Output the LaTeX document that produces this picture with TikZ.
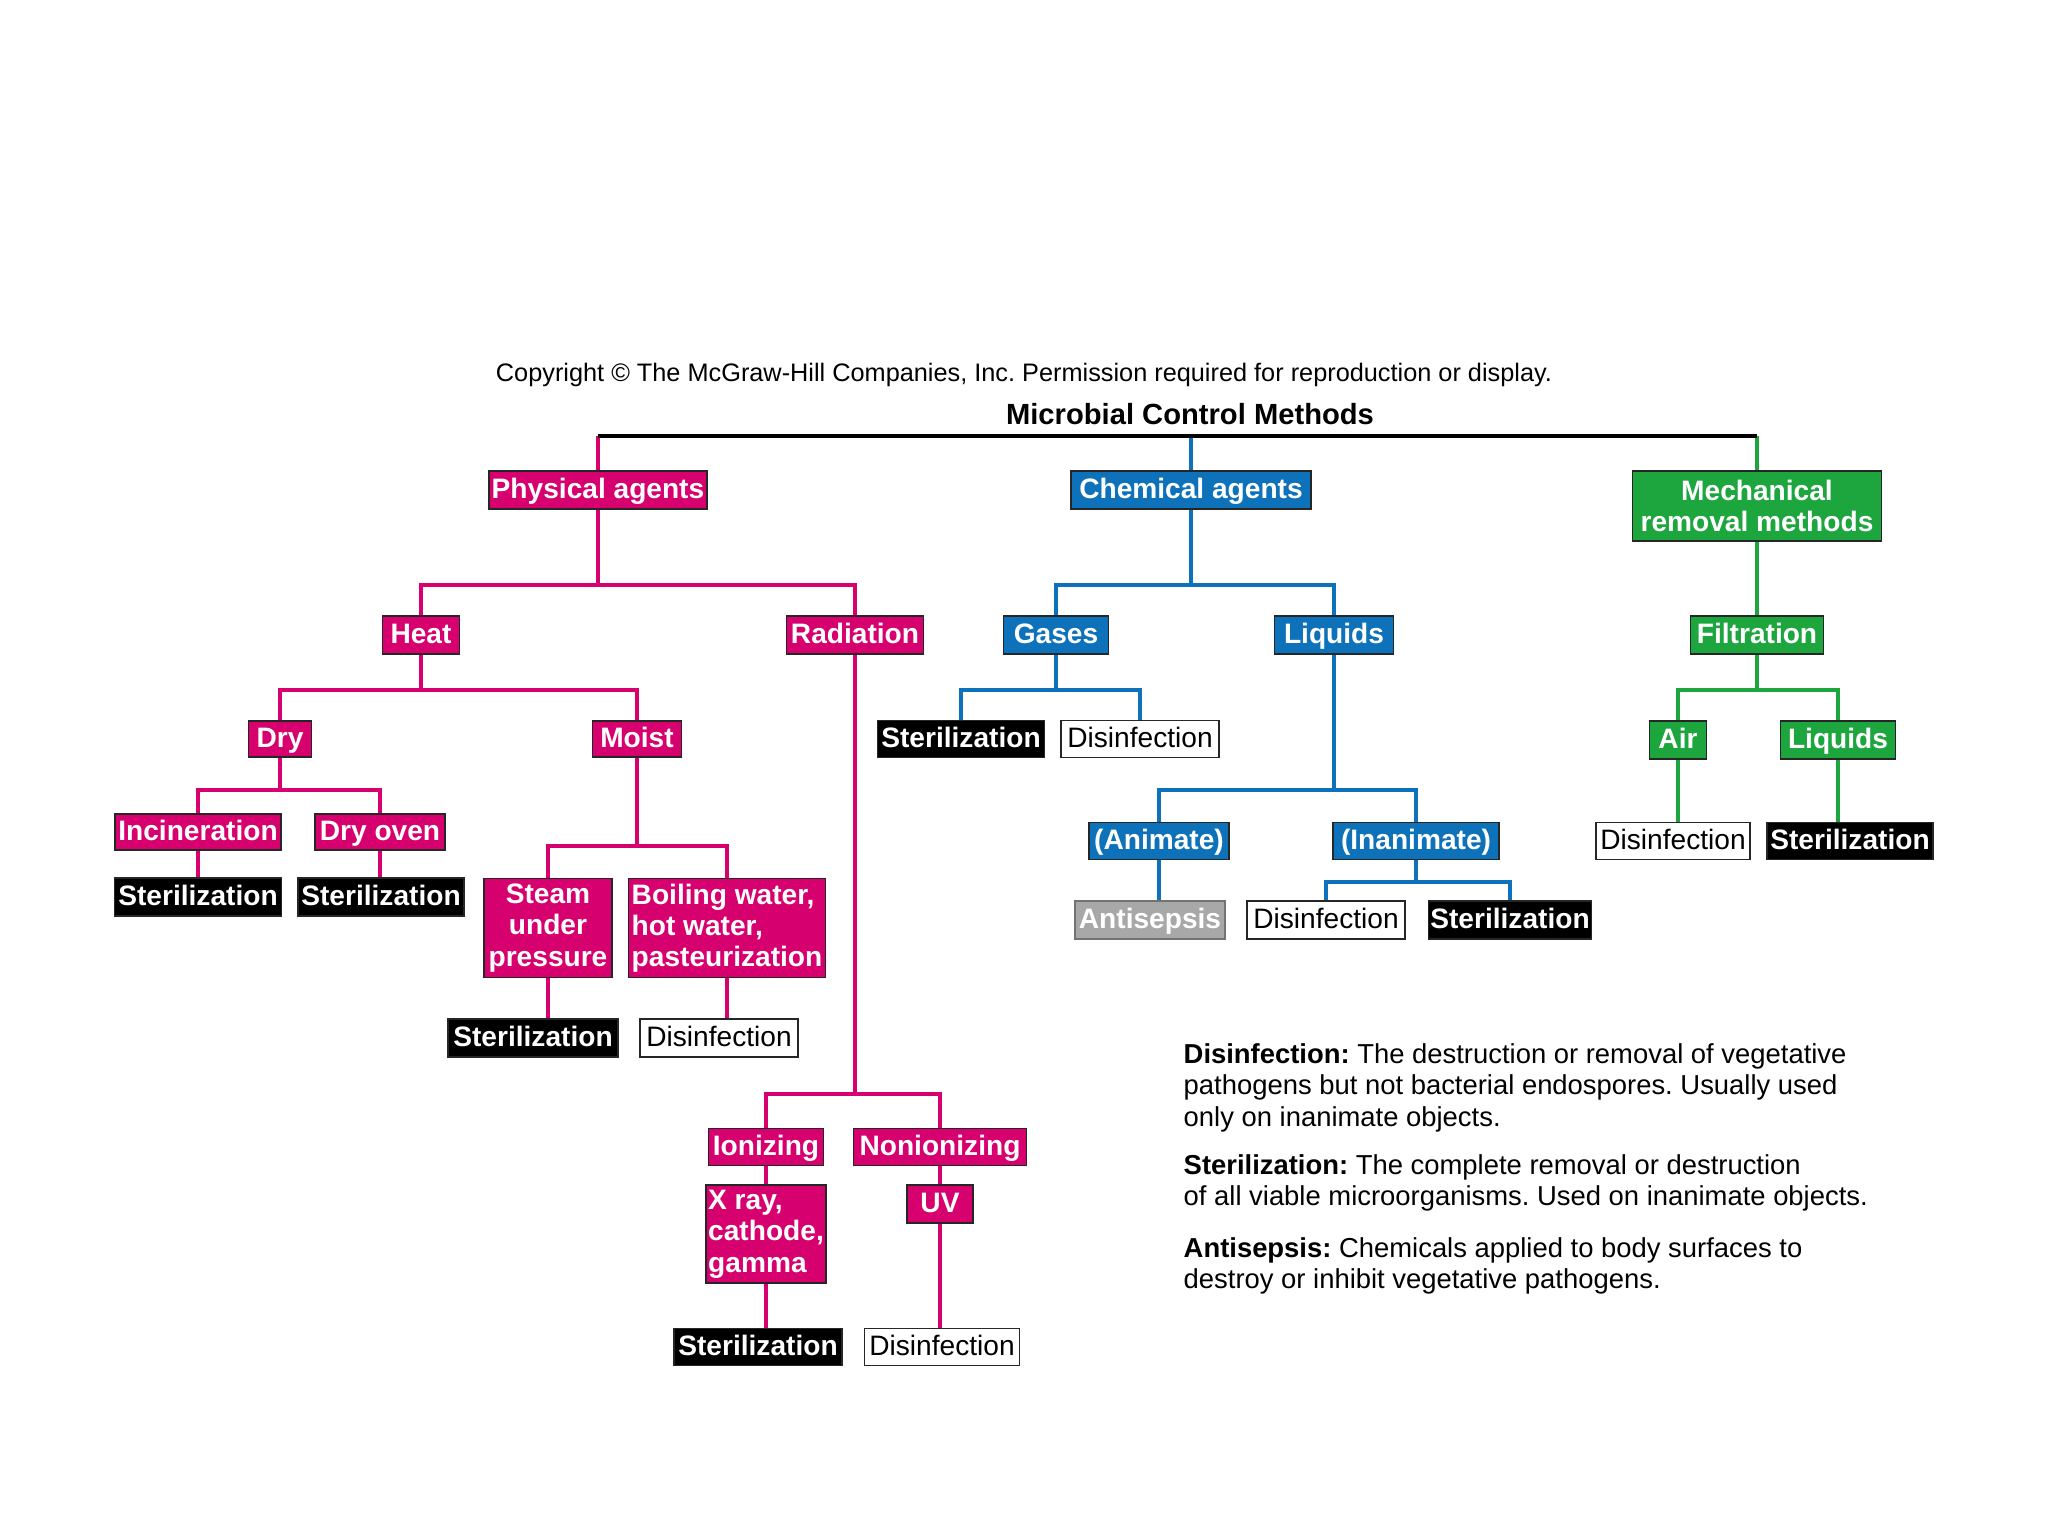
\documentclass[tikz,border=0pt]{standalone}
\usepackage{fontspec}
\setmainfont{Liberation Sans}
\frenchspacing
\definecolor{pinkc}{HTML}{D6006F}
\definecolor{bluec}{HTML}{0D72B9}
\definecolor{greenc}{HTML}{1DA53E}
\definecolor{grayc}{HTML}{A8A8A8}
\tikzset{
  base/.style={rectangle, draw=black!85, line width=0.5pt, inner sep=0pt, minimum height=3.8mm, align=center, text height=6.6pt, text depth=1.7pt, font=\fontsize{8}{8.9}\selectfont\bfseries},
  multi/.style={text height=, text depth=},
  pk/.style={base, fill=pinkc, text=white},
  bl/.style={base, fill=bluec, text=white},
  gr/.style={base, fill=greenc, text=white},
  st/.style={base, fill=black, text=white},
  di/.style={base, fill=white, text=black, font=\fontsize{8}{8.9}\selectfont},
  an/.style={base, fill=grayc, text=white, draw=black!55},
  lpk/.style={draw=pinkc, line width=0.9pt},
  lbl/.style={draw=bluec, line width=0.9pt},
  lgr/.style={draw=greenc, line width=0.9pt},
  ltop/.style={draw=black, line width=1.1pt},
  defs/.style={inner sep=0pt, align=left, anchor=north west, font=\fontsize{7.8}{8.9}\selectfont},
}
\begin{document}
\begin{tikzpicture}[x=0.1mm,y=-0.1mm]
\useasboundingbox[fill=white] (0,0) rectangle (2048,1536);

\node[font=\fontsize{7.2}{8}\selectfont, inner sep=0pt] (copy) at (1024,375) {Copyright \textcopyright{} The McGraw-Hill Companies, Inc. Permission required for reproduction or display.};
\node[font=\fontsize{8.3}{9}\selectfont\bfseries, inner sep=0pt] (title) at (1190,414) {Microbial Control Methods};

% level 1
\node[pk, minimum width=21.8mm] (pa) at (598,490) {Physical agents};
\node[bl, minimum width=24.0mm] (ca) at (1191,490) {Chemical agents};
\node[gr, multi, minimum width=24.9mm, minimum height=7.0mm] (mr) at (1757,506) {Mechanical\\removal methods};

% physical
\node[pk, minimum width=7.7mm] (heat) at (421,635) {Heat};
\node[pk, minimum width=13.7mm] (rad) at (855,635) {Radiation};
\node[pk, minimum width=6.3mm, minimum height=3.6mm] (dry) at (280,739) {Dry};
\node[pk, minimum width=8.9mm, minimum height=3.6mm] (moist) at (637,739) {Moist};
\node[pk, minimum width=16.6mm, minimum height=3.6mm] (inc) at (198,832) {Incineration};
\node[pk, minimum width=13.0mm, minimum height=3.6mm] (oven) at (380,832) {Dry oven};
\node[st, minimum width=16.7mm] (s1) at (198,897) {Sterilization};
\node[st, minimum width=16.6mm] (s2) at (381,897) {Sterilization};
\node[pk, multi, minimum width=12.8mm, minimum height=9.9mm] (steam) at (548,928) {Steam\\under\\pressure};
\node[pk, multi, minimum width=19.7mm, minimum height=9.9mm, align=left] (boil) at (727,928) {Boiling water,\\hot water,\\pasteurization};
\node[st, minimum width=17.0mm] (s3) at (533,1038) {Sterilization};
\node[di, minimum width=15.8mm] (d1) at (719,1038) {Disinfection};
\node[pk, minimum width=11.5mm, minimum height=3.7mm] (ion) at (766,1147) {Ionizing};
\node[pk, minimum width=17.3mm, minimum height=3.7mm] (nonion) at (940,1147) {Nonionizing};
\node[pk, multi, minimum width=12.0mm, minimum height=9.8mm, align=left] (xray) at (766,1234) {X ray,\\cathode,\\gamma};
\node[pk, minimum width=6.6mm] (uv) at (940,1204) {UV};
\node[st, minimum width=16.8mm, minimum height=3.7mm] (s4) at (758,1347) {Sterilization};
\node[di, minimum width=15.5mm, minimum height=3.7mm] (d2) at (942,1347) {Disinfection};

% chemical
\node[bl, minimum width=10.5mm] (gases) at (1056,635) {Gases};
\node[bl, minimum width=11.9mm] (liq) at (1334,635) {Liquids};
\node[st, minimum width=16.7mm, minimum height=3.7mm] (s5) at (961,739) {Sterilization};
\node[di, minimum width=15.8mm, minimum height=3.7mm] (d3) at (1140,739) {Disinfection};
\node[bl, minimum width=14.0mm, minimum height=3.7mm] (anim) at (1159,841) {(Animate)};
\node[bl, minimum width=16.6mm, minimum height=3.7mm] (inan) at (1416,841) {(Inanimate)};
\node[an, minimum width=15.0mm] (anti) at (1150,920) {Antisepsis};
\node[di, minimum width=15.8mm] (d4) at (1326,920) {Disinfection};
\node[st, minimum width=16.3mm] (s6) at (1510,920) {Sterilization};

% mechanical
\node[gr, minimum width=13.3mm] (filt) at (1757,635) {Filtration};
\node[gr, minimum width=5.7mm] (air) at (1678,740) {Air};
\node[gr, minimum width=11.5mm] (fliq) at (1838,740) {Liquids};
\node[di, minimum width=15.4mm, minimum height=3.7mm] (d5) at (1673,841) {Disinfection};
\node[st, minimum width=16.6mm, minimum height=3.7mm] (s7) at (1850,841) {Sterilization};

% definitions
\node[defs] (defd) at (1183,1043) {\textbf{Disinfection:} The destruction or removal of vegetative\\pathogens but not bacterial endospores. Usually used\\only on inanimate objects.};
\node[defs] (defs) at (1183,1154) {\textbf{Sterilization:} The complete removal or destruction\\of all viable microorganisms. Used on inanimate objects.};
\node[defs] (defa) at (1183,1237) {\textbf{Antisepsis:} Chemicals applied to body surfaces to\\destroy or inhibit vegetative pathogens.};

% connectors
\coordinate (tb) at (0,436);
\draw[lpk] (pa.north) -- (pa.north |- tb);
\draw[lbl] (ca.north) -- (ca.north |- tb);
\draw[lgr] (mr.north) -- (mr.north |- tb);
\draw[ltop] (pa.north |- tb) -- (mr.north |- tb);

\coordinate (jPA) at (pa.south |- 0,585);
\draw[lpk] (pa.south) -- (jPA);
\draw[lpk] (heat.north) |- (jPA) -| (rad.north);
\coordinate (jH) at (heat.south |- 0,690);
\draw[lpk] (heat.south) -- (jH);
\draw[lpk] (dry.north) |- (jH) -| (moist.north);
\coordinate (jD) at (dry.south |- 0,790);
\draw[lpk] (dry.south) -- (jD);
\draw[lpk] (inc.north) |- (jD) -| (oven.north);
\draw[lpk] (inc.south) -- (inc.south |- s1.north);
\draw[lpk] (oven.south) -- (oven.south |- s2.north);
\coordinate (jM) at (moist.south |- 0,846);
\draw[lpk] (moist.south) -- (jM);
\draw[lpk] (steam.north) |- (jM) -| (boil.north);
\draw[lpk] (steam.south) -- (steam.south |- s3.north);
\draw[lpk] (boil.south) -- (boil.south |- d1.north);
\coordinate (jR) at (rad.south |- 0,1094);
\draw[lpk] (rad.south) -- (jR);
\draw[lpk] (ion.north) |- (jR) -| (nonion.north);
\draw[lpk] (ion.south) -- (ion.south |- xray.north);
\draw[lpk] (xray.south) -- (xray.south |- s4.north);
\draw[lpk] (nonion.south) -- (nonion.south |- uv.north);
\draw[lpk] (uv.south) -- (uv.south |- d2.north);

\coordinate (jC) at (ca.south |- 0,585);
\draw[lbl] (ca.south) -- (jC);
\draw[lbl] (gases.north) |- (jC) -| (liq.north);
\coordinate (jG) at (gases.south |- 0,690);
\draw[lbl] (gases.south) -- (jG);
\draw[lbl] (s5.north) |- (jG) -| (d3.north);
\coordinate (jL) at (liq.south |- 0,790);
\draw[lbl] (liq.south) -- (jL);
\draw[lbl] (anim.north) |- (jL) -| (inan.north);
\draw[lbl] (anim.south) -- (anim.south |- anti.north);
\coordinate (jI) at (inan.south |- 0,882);
\draw[lbl] (inan.south) -- (jI);
\draw[lbl] (d4.north) |- (jI) -| (s6.north);

\draw[lgr] (mr.south) -- (filt.north);
\coordinate (jF) at (filt.south |- 0,690);
\draw[lgr] (filt.south) -- (jF);
\draw[lgr] (air.north) |- (jF) -| (fliq.north);
\draw[lgr] (air.south) -- (air.south |- d5.north);
\draw[lgr] (fliq.south) -- (fliq.south |- s7.north);
\end{tikzpicture}
\end{document}
